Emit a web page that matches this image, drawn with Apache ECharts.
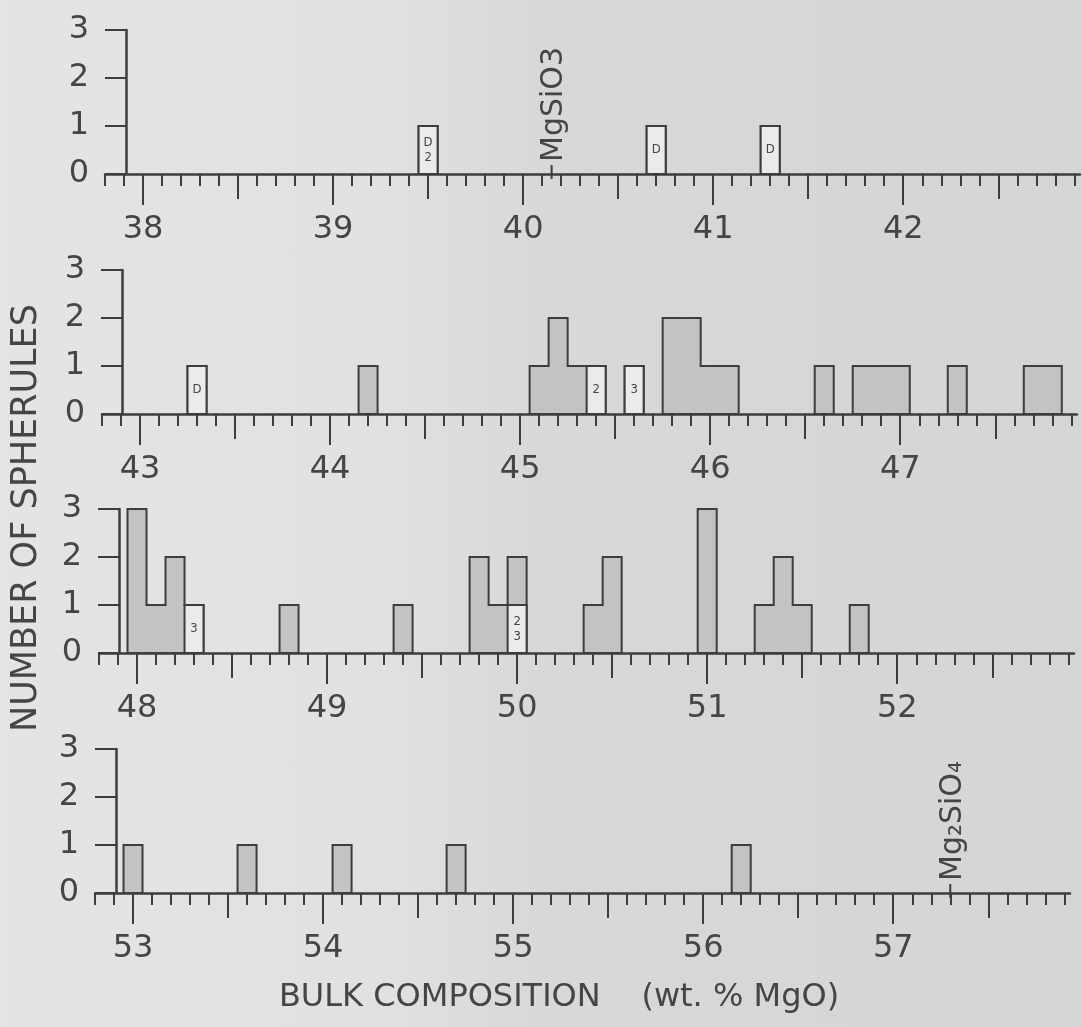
<!DOCTYPE html>
<html>
<head>
<meta charset="utf-8">
<script src="https://cdn.jsdelivr.net/npm/echarts@6/dist/echarts.min.js"></script>
<style>
html,body{margin:0;padding:0;}
body{background:linear-gradient(to right,#e4e4e4 0%,#e1e1e1 35%,#d8d8d8 50%,#d5d5d5 100%);}
#chart{width:1082px;height:1027px;}
</style>
</head>
<body>
<div id="chart"></div>
<script>
// first labelled value of each strip
var panelStart = [38, 43, 48, 53];
var majorTicks = [
    [38, 39, 40, 41, 42],
    [43, 44, 45, 46, 47],
    [48, 49, 50, 51, 52],
    [53, 54, 55, 56, 57]
];

// [wt.% MgO, shaded count, open count, text in open box]
var bins1 = [
    [39.5, 0, 1, 'D\n2'],
    [40.7, 0, 1, 'D'],
    [41.3, 0, 1, 'D']
];
var bins2 = [
    [43.3, 0, 1, 'D'],
    [44.2, 1, 0, ''],
    [45.1, 1, 0, ''], [45.2, 2, 0, ''], [45.3, 1, 0, ''], [45.4, 0, 1, '2'],
    [45.6, 0, 1, '3'],
    [45.8, 2, 0, ''], [45.9, 2, 0, ''], [46.0, 1, 0, ''], [46.1, 1, 0, ''],
    [46.6, 1, 0, ''],
    [46.8, 1, 0, ''], [46.9, 1, 0, ''], [47.0, 1, 0, ''],
    [47.3, 1, 0, ''],
    [47.7, 1, 0, ''], [47.8, 1, 0, '']
];
var bins3 = [
    [48.0, 3, 0, ''], [48.1, 1, 0, ''], [48.2, 2, 0, ''], [48.3, 0, 1, '3'],
    [48.8, 1, 0, ''],
    [49.4, 1, 0, ''],
    [49.8, 2, 0, ''], [49.9, 1, 0, ''], [50.0, 1, 1, '2\n3'],
    [50.4, 1, 0, ''], [50.5, 2, 0, ''],
    [51.0, 3, 0, ''],
    [51.3, 1, 0, ''], [51.4, 2, 0, ''], [51.5, 1, 0, ''],
    [51.8, 1, 0, '']
];
var bins4 = [
    [53.0, 1, 0, ''],
    [53.6, 1, 0, ''],
    [54.1, 1, 0, ''],
    [54.7, 1, 0, ''],
    [56.2, 1, 0, '']
];
// compositions marked on the axis
var marks1 = [[40.15, 'MgSiO3']];
var marks4 = [[57.3, 'Mg\u2082SiO\u2084']];

var allBins = [bins1, bins2, bins3, bins4];
var allMarks = [marks1, [], [], marks4];

// layout of the four strips (px)
var gridLeft = [105, 102, 99, 95];
var yAxisAt = [126, 122, 119, 116];
var gridTop = [30, 270, 509, 749];
var gridW = 975, gridH = 144;

var textColor = '#454545', lineColor = '#3d3d3d';
var shadeFill = '#c3c3c3', openFill = '#ebebeb';
var font = 'DejaVu Sans';

function groupBins(bins) {
    var sorted = bins.slice().sort(function (a, b) { return a[0] - b[0]; });
    var groups = [];
    sorted.forEach(function (b) {
        var g = groups[groups.length - 1];
        if (g && b[0] - g[g.length - 1][0] < 0.15) g.push(b);
        else groups.push([b]);
    });
    return groups;
}

function binRenderer(groups) {
    return function (params, api) {
        var g = groups[api.value(2)];
        var half = 0.05;
        var pts = [api.coord([g[0][0] - half, 0])];
        g.forEach(function (b) {
            var h = b[1] + b[2];
            pts.push(api.coord([b[0] - half, h]));
            pts.push(api.coord([b[0] + half, h]));
        });
        pts.push(api.coord([g[g.length - 1][0] + half, 0]));
        var children = [{
            type: 'polygon', shape: {points: pts},
            style: {fill: shadeFill, stroke: lineColor, lineWidth: 2}
        }];
        g.forEach(function (b) {
            if (!b[2]) return;
            var p0 = api.coord([b[0] - half, b[2]]);
            var p1 = api.coord([b[0] + half, 0]);
            children.push({
                type: 'rect',
                shape: {x: p0[0], y: p0[1], width: p1[0] - p0[0], height: p1[1] - p0[1]},
                style: {fill: openFill, stroke: lineColor, lineWidth: 2}
            });
            children.push({
                type: 'text', x: (p0[0] + p1[0]) / 2, y: (p0[1] + p1[1]) / 2,
                style: {text: b[3], align: 'center', verticalAlign: 'middle',
                    fontSize: 13, lineHeight: 15, fontFamily: 'DejaVu Sans Condensed, DejaVu Sans', fill: textColor}
            });
        });
        return {type: 'group', children: children};
    };
}

function markRenderer(marks) {
    return function (params, api) {
        var m = marks[api.value(1)];
        var p = api.coord([m[0], 0]);
        return {type: 'group', children: [
            {type: 'line', shape: {x1: p[0], y1: p[1] - 9, x2: p[0], y2: p[1] + 5},
                style: {stroke: lineColor, lineWidth: 2}},
            {type: 'text', x: p[0] + 3, y: p[1] - 12, rotation: Math.PI / 2,
                style: {text: m[1], align: 'left', verticalAlign: 'middle',
                    fontSize: 30, fontFamily: font, fill: textColor}}
        ]};
    };
}

var grid = [], xAxis = [], yAxis = [], series = [];
panelStart.forEach(function (start, i) {
    var min = start - 0.2, max = start + 4.93;
    grid.push({left: gridLeft[i], top: gridTop[i], width: gridW, height: gridH});
    var halves = [], minors = [];
    for (var k = Math.round(min * 10); k <= Math.floor(max * 10 + 1e-6); k++) {
        if (k % 10 === 0) continue;
        (k % 5 === 0 ? halves : minors).push(k / 10);
    }
    var tickStyle = {color: lineColor, width: 2};
    xAxis.push({
        gridIndex: i, type: 'value', min: min, max: max, position: 'bottom',
        splitLine: {show: false},
        axisLine: {show: true, onZero: false, lineStyle: {color: lineColor, width: 2.5}},
        axisTick: {show: true, customValues: majorTicks[i], length: 31, lineStyle: tickStyle},
        axisLabel: {show: true, customValues: majorTicks[i], margin: 40, fontSize: 32,
            fontFamily: font, color: textColor}
    });
    xAxis.push({
        gridIndex: i, type: 'value', min: min, max: max, position: 'bottom',
        splitLine: {show: false}, axisLine: {show: false, onZero: false},
        axisTick: {show: true, customValues: halves, length: 25, lineStyle: tickStyle},
        axisLabel: {show: false}
    });
    xAxis.push({
        gridIndex: i, type: 'value', min: min, max: max, position: 'bottom',
        splitLine: {show: false}, axisLine: {show: false, onZero: false},
        axisTick: {show: true, customValues: minors, length: 12, lineStyle: tickStyle},
        axisLabel: {show: false}
    });
    yAxis.push({
        gridIndex: i, type: 'value', min: 0, max: 3, interval: 1,
        offset: -(yAxisAt[i] - gridLeft[i]),
        splitLine: {show: false},
        axisLine: {show: true, lineStyle: {color: lineColor, width: 2.5}},
        axisTick: {show: true, length: 21, lineStyle: tickStyle},
        axisLabel: {margin: 37, fontSize: 32, fontFamily: font, color: textColor}
    });
    var groups = groupBins(allBins[i]);
    series.push({
        type: 'custom', xAxisIndex: 3 * i, yAxisIndex: i, silent: true,
        renderItem: binRenderer(groups),
        encode: {x: 0, y: 1},
        data: groups.map(function (g, j) { return [g[0][0], 0, j]; })
    });
    if (allMarks[i].length) {
        var marks = allMarks[i];
        series.push({
            type: 'custom', xAxisIndex: 3 * i, yAxisIndex: i, silent: true,
            renderItem: markRenderer(marks),
            encode: {x: 0},
            data: marks.map(function (m, j) { return [m[0], j]; })
        });
    }
});

var chart = echarts.init(document.getElementById('chart'));
chart.setOption({
    backgroundColor: 'transparent',
    animation: false,
    grid: grid,
    xAxis: xAxis,
    yAxis: yAxis,
    series: series,
    graphic: [
        {type: 'text', x: 27, y: 518, rotation: Math.PI / 2,
            style: {text: 'NUMBER OF SPHERULES', align: 'center', verticalAlign: 'middle',
                fontSize: 35, fontFamily: font, fill: textColor}},
        {type: 'text', x: 559, y: 998,
            style: {text: 'BULK COMPOSITION    (wt. % MgO)', align: 'center', verticalAlign: 'middle',
                fontSize: 32, fontFamily: font, fill: textColor}}
    ]
});
</script>
</body>
</html>
